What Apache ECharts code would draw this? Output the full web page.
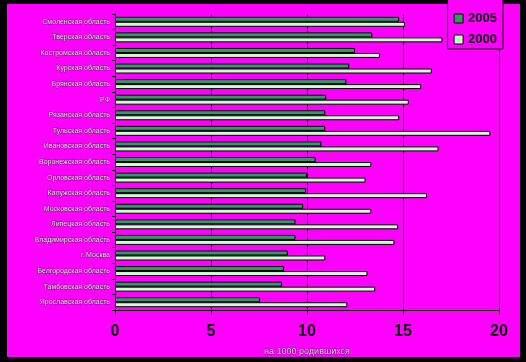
<!DOCTYPE html>
<html><head><meta charset="utf-8">
<script src="https://cdn.jsdelivr.net/npm/echarts@6/dist/echarts.min.js"></script>
<style>html,body{margin:0;padding:0;background:#000;}#c{width:526px;height:362px;}</style>
</head><body><div id="c"></div>
<script>
var categories = ["Смоленская область","Тверская область","Костромская область","Курская область","Брянская область","РФ","Рязанская область","Тульская область","Ивановская область","Воронежская область","Орловская область","Калужская область","Московская область","Липецкая область","Владимирская область","г. Москва","Белгородская область","Тамбовская область","Ярославская область"];
var values2005 = [14.8,13.4,12.5,12.2,12.05,11.0,10.95,10.95,10.75,10.45,10.0,9.95,9.8,9.4,9.4,9.0,8.8,8.7,7.55];
var values2000 = [15.1,17.05,13.8,16.5,15.95,15.3,14.8,19.55,16.85,13.35,13.05,16.25,13.35,14.75,14.55,10.95,13.15,13.55,12.1];
var xTicks = {min:0, max:20, interval:5};

var chart = echarts.init(document.getElementById('c'), null, {renderer:'canvas'});
chart.setOption({
  backgroundColor:'#000000',
  animation:false,
  graphic:[{type:'rect', z:-100, silent:true, shape:{x:7,y:4,width:513,height:353}, style:{fill:'#FF00FF'}}],
  legend:{
    orient:'vertical', right:23, top:-6, padding:[18,6,3,6], itemGap:8,
    width:55, itemWidth:9, itemHeight:9, icon:'rect',
    itemStyle:{borderColor:'#000', borderWidth:1},
    backgroundColor:'#FF00FF', borderColor:'#000', borderWidth:1,
    data:['2005','2000'],
    textStyle:{fontFamily:'Liberation Sans, Arial', fontWeight:'bold', fontSize:13, color:'#000',
      textShadowColor:'rgba(255,255,255,0.9)', textShadowOffsetX:1, textShadowOffsetY:1, textShadowBlur:0}
  },
  grid:{left:115, right:27, top:14, bottom:52},
  xAxis:{
    type:'value', min:xTicks.min, max:xTicks.max, interval:xTicks.interval,
    name:'на 1000 родившихся', nameLocation:'middle', nameGap:37,
    nameTextStyle:{fontFamily:'Liberation Sans, Arial', fontSize:9, color:'#dddddd', textBorderColor:'rgba(0,0,0,0.5)', textBorderWidth:1},
    axisLine:{show:true, lineStyle:{color:'#000', width:1}},
    axisTick:{show:true, length:5, lineStyle:{color:'#000'}},
    splitLine:{show:true, lineStyle:{color:'#000', width:1}},
    axisLabel:{margin:14, fontFamily:'Liberation Sans, Arial', fontWeight:'bold', fontSize:16, color:'#000',
      textShadowColor:'rgba(255,255,255,0.9)', textShadowOffsetX:1, textShadowOffsetY:1, textShadowBlur:0}
  },
  yAxis:{
    type:'category', data:categories, inverse:true,
    axisLine:{show:true, lineStyle:{color:'#000', width:1}},
    axisTick:{show:true, length:3, lineStyle:{color:'#000'}},
    splitLine:{show:false},
    axisLabel:{margin:5, fontFamily:'Liberation Sans, Arial', fontSize:7, color:'#e6e6e6',
      textBorderColor:'rgba(0,0,0,0.45)', textBorderWidth:1}
  },
  series:[
    {name:'2005', type:'bar', data:values2005, barWidth:5, barGap:'0%',
     itemStyle:{color:'#339966', borderColor:'#000', borderWidth:1}},
    {name:'2000', type:'bar', data:values2000, barWidth:5, barGap:'0%',
     itemStyle:{color:'#CCFFCC', borderColor:'#000', borderWidth:1}}
  ]
});
</script></body></html>
